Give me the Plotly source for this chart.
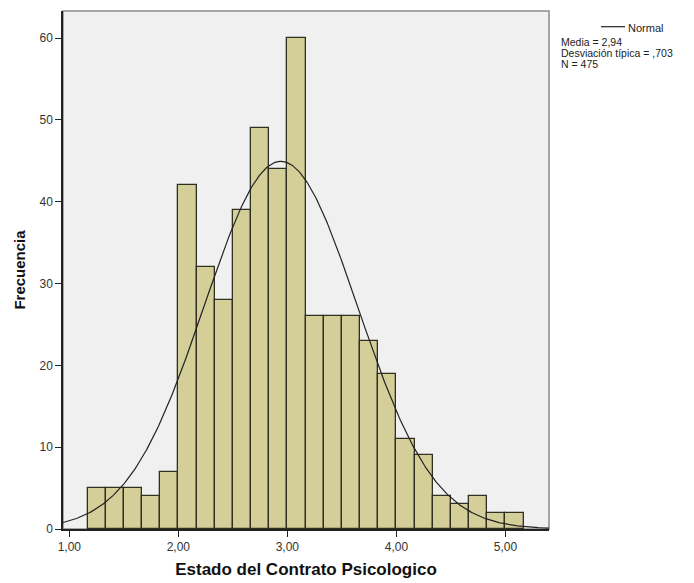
import numpy as np
import plotly.graph_objects as go

# ---- data ----
bin_start = 1.1667
bin_width = 1 / 6
counts = [5, 5, 5, 4, 7, 42, 32, 28, 39, 49, 44, 60, 26, 26, 26, 23, 19, 11, 9, 4, 3, 4, 2, 2]
mean_val = 2.94
sd_val = 0.703
n_val = 475
x_tick_vals = [1, 2, 3, 4, 5]
x_tick_text = ["1,00", "2,00", "3,00", "4,00", "5,00"]
y_tick_vals = [0, 10, 20, 30, 40, 50, 60]
stats_lines = ["Media = 2,94", "Desviación típica = ,703", "N = 475"]

x_range = [0.942, 5.40]
y_range = [0, 63.3]

centers = [bin_start + bin_width * (i + 0.5) for i in range(len(counts))]

xs = np.linspace(x_range[0], x_range[1], 400)
ys = n_val * bin_width / (sd_val * np.sqrt(2 * np.pi)) * np.exp(-0.5 * ((xs - mean_val) / sd_val) ** 2)

FONT = "Arial, 'Liberation Sans', sans-serif"

fig = go.Figure()
fig.add_trace(go.Bar(
    x=centers, y=counts, width=bin_width,
    marker=dict(color="#D4CF99", line=dict(color="#2f2f22", width=1.3)),
    showlegend=False, hoverinfo="x+y",
))
fig.add_trace(go.Scatter(
    x=xs, y=ys, mode="lines", line=dict(color="#222222", width=1.2),
    showlegend=False, hoverinfo="skip",
))

fig.update_layout(
    width=694, height=583,
    margin=dict(l=63, r=145, t=11, b=54),
    paper_bgcolor="white",
    plot_bgcolor="#F0F0F0",
    bargap=0,
    font=dict(family=FONT, size=12, color="#333333"),
    xaxis=dict(
        range=x_range, tickvals=x_tick_vals, ticktext=x_tick_text,
        ticks="outside", ticklen=6, tickcolor="#222222", tickwidth=1.3,
        showline=True, linecolor="#222222", linewidth=1.5,
        showgrid=False, zeroline=False, automargin=False,
        tickfont=dict(size=12, color="#333333"),
        title=dict(text="<b>Estado del Contrato Psicologico</b>",
                   font=dict(size=17, color="#111111"), standoff=10),
    ),
    yaxis=dict(
        range=y_range, tickvals=y_tick_vals,
        ticks="outside", ticklen=6, tickcolor="#222222", tickwidth=1.3,
        showline=True, linecolor="#222222", linewidth=1.5,
        showgrid=False, zeroline=False, automargin=False,
        tickfont=dict(size=12, color="#333333"),
        title=dict(text="<b>Frecuencia</b>",
                   font=dict(size=15, color="#111111"), standoff=10),
    ),
    shapes=[
        dict(type="rect", xref="paper", yref="paper", x0=0, x1=1, y0=0, y1=1,
             line=dict(color="#8a8a8a", width=1.5), fillcolor="rgba(0,0,0,0)", layer="below"),
        dict(type="line", xref="paper", yref="paper",
             x0=(601 - 63) / 486, x1=(625 - 63) / 486,
             y0=(529 - 26.7) / 518, y1=(529 - 26.7) / 518,
             line=dict(color="#222222", width=1.2)),
    ],
)

annotations = [
    dict(text="Normal", xref="paper", yref="paper",
         x=(626 - 63) / 486, y=(529 - 28) / 518, xanchor="left", yanchor="middle",
         showarrow=False, font=dict(size=11, color="#222222")),
]
line_y = [41.5, 53.0, 64.5]
for txt, py in zip(stats_lines, line_y):
    annotations.append(dict(text=txt, xref="paper", yref="paper",
                            x=(560 - 63) / 486, y=(529 - py) / 518,
                            xanchor="left", yanchor="middle", showarrow=False,
                            borderpad=0,
                            font=dict(size=10.5, color="#222222")))
fig.update_layout(annotations=annotations)

fig.write_html("out.html")
